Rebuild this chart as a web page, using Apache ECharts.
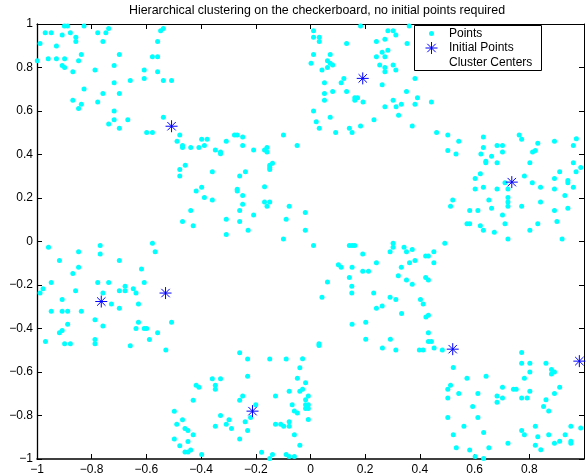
<!DOCTYPE html>
<html><head><meta charset="utf-8">
<script src="https://cdn.jsdelivr.net/npm/echarts@6/dist/echarts.min.js"></script>
<style>html,body{margin:0;padding:0;background:#fff}#c{width:587px;height:476px}</style>
</head><body><div id="c"></div>
<script>
const titleText = 'Hierarchical clustering on the checkerboard, no initial points required';
const legendNames = ['Points', 'Initial Points', 'Cluster Centers'];
const axisMin = -1, axisMax = 1, tickStep = 0.2;

const pointsNW = [[-0.970,0.960],[-0.948,0.960],[-0.900,0.991],[-0.888,0.991],[-0.828,0.991],[-0.878,0.960],[-0.908,0.950],[-0.858,0.939],[-0.858,0.919],[-0.989,0.910],[-0.929,0.899],[-0.778,0.960],[-0.748,0.960],[-0.738,0.979],[-0.759,0.919],[-0.999,0.831],[-0.959,0.840],[-0.929,0.840],[-0.899,0.840],[-0.908,0.809],[-0.899,0.800],[-0.869,0.780],[-0.848,0.831],[-0.838,0.860],[-0.788,0.789],[-0.828,0.701],[-0.869,0.650],[-0.848,0.611],[-0.838,0.631],[-0.778,0.641],[-0.759,0.681],[-0.718,0.809],[-0.699,0.860],[-0.718,0.730],[-0.699,0.681],[-0.718,0.600],[-0.718,0.560],[-0.738,0.540],[-0.699,0.521],[-0.668,0.560],[-0.659,0.740],[-0.608,0.789],[-0.608,0.750],[-0.578,0.850],[-0.559,0.850],[-0.559,0.919],[-0.548,0.969],[-0.538,0.979],[-0.559,0.780],[-0.538,0.740],[-0.508,0.740],[-0.538,0.571],[-0.599,0.501],[-0.578,0.501]];

const pointsCW = [[-0.478,0.490],[-0.488,0.461],[-0.468,0.441],[-0.468,0.432],[-0.438,0.432],[-0.408,0.432],[-0.398,0.470],[-0.378,0.470],[-0.388,0.441],[-0.348,0.421],[-0.329,0.412],[-0.329,0.403],[-0.308,0.461],[-0.278,0.490],[-0.268,0.490],[-0.248,0.481],[-0.248,0.441],[-0.208,0.421],[-0.168,0.421],[-0.159,0.432],[-0.159,0.412],[-0.099,0.490],[-0.049,0.441],[-0.478,0.331],[-0.458,0.351],[-0.478,0.301],[-0.468,0.092],[-0.438,0.142],[-0.429,0.072],[-0.418,0.232],[-0.398,0.250],[-0.388,0.202],[-0.359,0.321],[-0.359,0.191],[-0.308,0.102],[-0.308,0.032],[-0.259,0.301],[-0.238,0.321],[-0.268,0.240],[-0.268,0.232],[-0.248,0.212],[-0.248,0.171],[-0.259,0.142],[-0.259,0.092],[-0.228,0.052],[-0.208,0.122],[-0.168,0.252],[-0.168,0.182],[-0.159,0.162],[-0.149,0.182],[-0.149,0.331],[-0.149,0.340],[-0.149,0.351],[-0.139,0.360],[-0.099,0.012],[-0.089,0.102],[-0.078,0.162],[-0.019,0.133],[-0.019,0.052]];

const pointsNC = [[0.011,0.969],[0.011,0.939],[0.032,0.939],[0.032,0.919],[0.183,0.991],[0.132,0.910],[0.011,0.860],[0.002,0.820],[0.042,0.789],[0.062,0.800],[0.062,0.831],[0.072,0.860],[0.072,0.820],[0.081,0.811],[0.051,0.730],[0.112,0.730],[0.122,0.750],[0.051,0.681],[0.081,0.690],[0.132,0.690],[0.051,0.650],[0.162,0.661],[0.172,0.661],[0.162,0.650],[0.192,0.641],[0.011,0.600],[0.072,0.571],[0.021,0.551],[0.032,0.521],[0.142,0.521],[0.152,0.501],[0.092,0.501],[0.183,0.531],[0.232,0.560],[0.272,0.620],[0.302,0.650],[0.313,0.620],[0.332,0.631],[0.322,0.580],[0.372,0.531],[0.382,0.631],[0.391,0.661],[0.442,0.641],[0.351,0.690],[0.382,0.750],[0.262,0.721],[0.241,0.919],[0.272,0.930],[0.283,0.969],[0.302,0.969],[0.312,0.950],[0.353,0.910],[0.361,0.991],[0.283,0.879],[0.262,0.870],[0.241,0.850],[0.272,0.850],[0.253,0.811],[0.272,0.800],[0.272,0.780],[0.302,0.811],[0.312,0.789],[0.461,0.501]];

const pointsE = [[0.502,0.490],[0.542,0.461],[0.632,0.481],[0.632,0.432],[0.682,0.441],[0.702,0.441],[0.763,0.490],[0.772,0.470],[0.831,0.452],[0.892,0.461],[0.961,0.441],[0.972,0.472],[0.502,0.418],[0.532,0.402],[0.623,0.402],[0.662,0.392],[0.702,0.411],[0.812,0.411],[0.822,0.418],[0.641,0.369],[0.641,0.362],[0.682,0.362],[0.802,0.362],[0.961,0.362],[0.988,0.340],[0.911,0.321],[0.971,0.321],[0.621,0.311],[0.602,0.290],[0.782,0.301],[0.892,0.290],[0.941,0.281],[0.941,0.270],[0.711,0.270],[0.811,0.270],[0.602,0.241],[0.632,0.250],[0.682,0.241],[0.722,0.241],[0.841,0.250],[0.892,0.241],[0.961,0.250],[0.930,0.212],[0.722,0.202],[0.722,0.182],[0.722,0.162],[0.652,0.191],[0.520,0.191],[0.512,0.162],[0.582,0.142],[0.612,0.142],[0.662,0.153],[0.772,0.162],[0.841,0.182],[0.892,0.142],[0.941,0.153],[0.702,0.122],[0.572,0.082],[0.582,0.082],[0.621,0.072],[0.711,0.082],[0.831,0.082],[0.901,0.092],[0.632,0.052],[0.672,0.043],[0.802,0.052],[0.722,0.012],[0.920,0.012]];

const pointsW = [[-0.958,-0.027],[-0.918,-0.087],[-0.848,-0.047],[-0.848,-0.118],[-0.869,-0.147],[-0.859,-0.226],[-0.948,-0.188],[-0.908,-0.267],[-0.978,-0.217],[-0.989,-0.237],[-0.769,-0.018],[-0.769,-0.058],[-0.778,-0.188],[-0.738,-0.188],[-0.759,-0.237],[-0.728,-0.287],[-0.699,-0.087],[-0.699,-0.226],[-0.678,-0.206],[-0.678,-0.226],[-0.648,-0.217],[-0.638,-0.237],[-0.629,-0.287],[-0.618,-0.127],[-0.608,-0.188],[-0.578,-0.008],[-0.568,-0.047],[-0.699,-0.307],[-0.948,-0.321],[-0.908,-0.321],[-0.888,-0.321],[-0.838,-0.321],[-0.969,-0.460],[-0.918,-0.420],[-0.908,-0.409],[-0.899,-0.470],[-0.878,-0.470],[-0.888,-0.380],[-0.788,-0.360],[-0.788,-0.450],[-0.788,-0.470],[-0.759,-0.389],[-0.659,-0.479],[-0.638,-0.400],[-0.629,-0.371],[-0.608,-0.400],[-0.599,-0.400],[-0.589,-0.450],[-0.559,-0.420],[-0.529,-0.499],[-0.508,-0.371]];

const pointsC = [[0.011,-0.018],[0.142,-0.018],[0.152,-0.018],[0.162,-0.018],[0.302,-0.008],[0.302,-0.027],[0.291,-0.047],[0.342,-0.027],[0.351,-0.047],[0.372,-0.037],[0.451,-0.047],[0.491,-0.008],[0.421,-0.067],[0.431,-0.067],[0.451,-0.098],[0.382,-0.087],[0.362,-0.098],[0.332,-0.118],[0.191,-0.058],[0.241,-0.098],[0.102,-0.107],[0.112,-0.118],[0.152,-0.118],[0.191,-0.137],[0.212,-0.137],[0.142,-0.166],[0.062,-0.186],[0.151,-0.206],[0.151,-0.237],[0.042,-0.256],[0.321,-0.157],[0.351,-0.177],[0.372,-0.197],[0.421,-0.166],[0.431,-0.177],[0.231,-0.237],[0.291,-0.256],[0.312,-0.267],[0.402,-0.267],[0.412,-0.287],[0.241,-0.307],[0.262,-0.296],[0.333,-0.331],[0.422,-0.347],[0.431,-0.339],[0.152,-0.380],[0.202,-0.371],[0.202,-0.449],[0.292,-0.449],[0.263,-0.490],[0.312,-0.499],[0.398,-0.499],[0.412,-0.499],[0.431,-0.420],[0.431,-0.460],[0.442,-0.460],[0.452,-0.490],[0.482,-0.499],[0.031,-0.470],[0.031,-0.478]];

const pointsSE = [[0.522,-0.579],[0.512,-0.661],[0.502,-0.679],[0.502,-0.719],[0.542,-0.699],[0.572,-0.629],[0.642,-0.620],[0.612,-0.699],[0.593,-0.759],[0.561,-0.849],[0.502,-0.809],[0.522,-0.889],[0.533,-0.948],[0.582,-0.959],[0.602,-0.988],[0.633,-0.998],[0.633,-0.878],[0.652,-0.948],[0.612,-0.809],[0.682,-0.710],[0.682,-0.739],[0.702,-0.670],[0.702,-0.719],[0.742,-0.679],[0.752,-0.679],[0.722,-0.928],[0.772,-0.560],[0.772,-0.719],[0.782,-0.629],[0.772,-0.869],[0.782,-0.889],[0.792,-0.719],[0.802,-0.560],[0.802,-0.600],[0.802,-0.689],[0.822,-0.849],[0.831,-0.898],[0.822,-0.937],[0.842,-0.957],[0.861,-0.560],[0.861,-0.728],[0.852,-0.759],[0.871,-0.779],[0.871,-0.889],[0.881,-0.589],[0.892,-0.600],[0.881,-0.609],[0.892,-0.699],[0.911,-0.670],[0.892,-0.928],[0.911,-0.918],[0.931,-0.889],[0.952,-0.849],[0.952,-0.918],[0.952,-0.928],[0.772,-0.510],[0.988,-0.858]];

const pointsS = [[-0.498,-0.780],[-0.489,-0.840],[-0.468,-0.820],[-0.498,-0.908],[-0.478,-0.939],[-0.459,-0.860],[-0.448,-0.869],[-0.448,-0.919],[-0.429,-0.889],[-0.459,-0.968],[-0.448,-0.968],[-0.438,-0.959],[-0.429,-0.730],[-0.418,-0.661],[-0.408,-0.670],[-0.398,-0.979],[-0.359,-0.631],[-0.348,-0.661],[-0.348,-0.679],[-0.329,-0.631],[-0.329,-0.800],[-0.348,-0.849],[-0.308,-0.840],[-0.298,-0.820],[-0.289,-0.860],[-0.259,-0.908],[-0.259,-0.511],[-0.259,-0.730],[-0.248,-0.710],[-0.239,-0.829],[-0.230,-0.869],[-0.230,-0.540],[-0.230,-0.620],[-0.219,-0.809],[-0.200,-0.750],[-0.179,-0.969],[-0.149,-0.540],[-0.149,-0.998],[-0.139,-0.979],[-0.128,-0.710],[-0.128,-0.840],[-0.109,-0.840],[-0.098,-0.849],[-0.089,-0.979],[-0.089,-0.540],[-0.029,-0.539],[-0.039,-0.580],[-0.048,-0.629],[-0.018,-0.649],[-0.029,-0.679],[-0.039,-0.689],[-0.078,-0.689],[-0.059,-0.779],[-0.048,-0.789],[-0.067,-0.750],[-0.018,-0.728],[-0.018,-0.750],[-0.018,-0.768],[-0.008,-0.710],[-0.008,-0.750],[-0.008,-0.768],[-0.008,-0.818],[-0.078,-0.829],[-0.078,-0.849],[-0.059,-0.889],[-0.039,-0.937],[-0.059,-0.988],[-0.078,-0.988]];

const initialPoints = [[-0.508,0.530],[0.191,0.750],[0.736,0.273],[-0.765,-0.276],[-0.530,-0.237],[0.520,-0.495],[0.983,-0.550],[-0.212,-0.780]];

const clusterCenters = [];

const allPoints = [].concat(pointsNW, pointsCW, pointsNC, pointsE, pointsW, pointsC, pointsSE, pointsS);

const FONT = "'Liberation Sans', Arial, Helvetica, sans-serif";
const CYAN = '#00ffff';
const BLUE = '#0000ff';
const ASTERISK = 'path://M6,0L6,12M0,6L12,6M1.8,1.8L10.2,10.2M1.8,10.2L10.2,1.8';

function fmt(v) {
  const r = Math.round(v * 10) / 10;
  return String(r).replace('-', '\u2212');
}

function axisBase(lineWidth) {
  return {
    type: 'value', min: axisMin, max: axisMax, interval: tickStep,
    axisLine: { show: true, onZero: false, lineStyle: { color: '#000', width: lineWidth } },
    axisTick: { show: true, inside: true, length: 5, lineStyle: { color: '#000', width: 1 } },
    splitLine: { show: false }
  };
}

// legend asterisk built from 4 line elements (centre lx, ly, radius lr)
const lx = 431.5, ly = 48, lr = 6, ld = 4.2;
const starLines = [[lx, ly - lr, lx, ly + lr], [lx - lr, ly, lx + lr, ly], [lx - ld, ly - ld, lx + ld, ly + ld], [lx - ld, ly + ld, lx + ld, ly - ld]]
  .map(s => ({ type: 'line', z: 101, shape: { x1: s[0], y1: s[1], x2: s[2], y2: s[3] }, style: { stroke: BLUE, lineWidth: 1 } }));

const chart = echarts.init(document.getElementById('c'), null, { renderer: 'canvas' });
chart.setOption({
  animation: false,
  backgroundColor: '#fff',
  grid: { left: 37, top: 24, width: 553, height: 436, containLabel: false },
  xAxis: [
    Object.assign(axisBase(1.6), { position: 'bottom',
      axisLabel: { show: true, margin: 5, color: '#000', fontSize: 12, fontFamily: FONT,
        formatter: v => (v >= axisMax - 1e-9 ? '' : fmt(v)) } }),
    Object.assign(axisBase(1), { position: 'top', axisLabel: { show: false } })
  ],
  yAxis: [
    Object.assign(axisBase(1.3), { position: 'left',
      axisLabel: { show: true, margin: 4, color: '#000', fontSize: 12, fontFamily: FONT, formatter: v => fmt(v) } }),
    Object.assign(axisBase(1), { position: 'right', axisLabel: { show: false } })
  ],
  series: [
    { name: legendNames[0], type: 'scatter', xAxisIndex: 0, yAxisIndex: 0, data: allPoints,
      symbol: 'circle', symbolSize: 5, itemStyle: { color: CYAN, opacity: 1 }, silent: true },
    { name: legendNames[1], type: 'scatter', xAxisIndex: 0, yAxisIndex: 0, data: initialPoints,
      symbol: ASTERISK, symbolSize: 12,
      itemStyle: { color: 'rgba(0,0,0,0)', borderColor: BLUE, borderWidth: 1, opacity: 1 }, silent: true, z: 3 },
    { name: legendNames[2], type: 'scatter', xAxisIndex: 0, yAxisIndex: 0, data: clusterCenters,
      symbol: 'circle', symbolSize: 6, itemStyle: { color: 'rgba(0,0,0,0)' }, silent: true }
  ],
  graphic: [
    { type: 'text', x: 317, y: 11, z: 100,
      style: { text: titleText, fill: '#000', fontSize: 12.4, fontFamily: FONT, align: 'center', verticalAlign: 'middle' } },
    { type: 'rect', z: 100, shape: { x: 414.5, y: 25.5, width: 127, height: 45 },
      style: { fill: '#fff', stroke: '#000', lineWidth: 1 } },
    { type: 'circle', z: 101, shape: { cx: 431.5, cy: 33.5, r: 2.5 }, style: { fill: CYAN } }
  ].concat(starLines).concat([
    { type: 'text', z: 101, x: 449, y: 33.5, style: { text: legendNames[0], fill: '#000', fontSize: 12, fontFamily: FONT, align: 'left', verticalAlign: 'middle' } },
    { type: 'text', z: 101, x: 449, y: 48, style: { text: legendNames[1], fill: '#000', fontSize: 12, fontFamily: FONT, align: 'left', verticalAlign: 'middle' } },
    { type: 'text', z: 101, x: 449, y: 62.5, style: { text: legendNames[2], fill: '#000', fontSize: 12, fontFamily: FONT, align: 'left', verticalAlign: 'middle' } }
  ])
});
</script>
</body></html>
